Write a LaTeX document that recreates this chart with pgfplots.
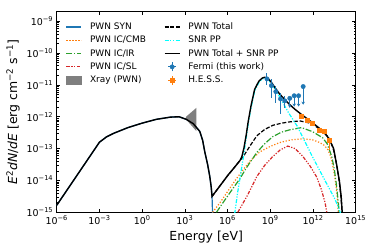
\documentclass[border=0pt]{standalone}
\usepackage{fontspec}
\setmainfont{DejaVu Sans}
\usepackage{pgfplots}
\pgfplotsset{compat=1.18}
\usetikzlibrary{arrows.meta}
\definecolor{c0}{HTML}{1F77B4}
\definecolor{c1}{HTML}{FF7F0E}
\definecolor{c2}{HTML}{2CA02C}
\definecolor{c3}{HTML}{D62728}
\definecolor{cy}{HTML}{00FFFF}
\definecolor{xg}{HTML}{7F7F7F}
\newcommand{\sups}[1]{\textsuperscript{#1}}
\pgfplotsset{
  circleg/.style={legend image code/.code={\draw[##1, line width=1bp] (7.5bp,-4.5bp) -- (7.5bp,4.5bp) (3.5bp,0bp) -- (11.5bp,0bp); \fill[##1] (7.5bp,0bp) circle (2.2bp);}},
  squareleg/.style={legend image code/.code={\draw[##1, line width=1bp] (7.5bp,-4.5bp) -- (7.5bp,4.5bp) (3.5bp,0bp) -- (11.5bp,0bp); \fill[##1] (5.4bp,-2.1bp) rectangle (9.6bp,2.1bp);}},
  rectleg/.style={legend image code/.code={\fill[##1] (0bp,-4bp) rectangle (15bp,4bp);}},
  lineleg/.style={legend image code/.code={\draw[##1] (0bp,0bp) -- (15bp,0bp);}},
}
\begin{document}
\begin{tikzpicture}
\begin{axis}[
  scale only axis, width=299bp, height=200.6bp,
  xmin=-6, xmax=15, ymin=-15, ymax=-8.70,
  xtick={-6,-3,0,3,6,9,12,15},
  xticklabels={10\sups{−6},10\sups{−3},10\sups{0},10\sups{3},10\sups{6},10\sups{9},10\sups{12},10\sups{15}},
  ytick={-15,-14,-13,-12,-11,-10,-9},
  yticklabels={10\sups{−15},10\sups{−14},10\sups{−13},10\sups{−12},10\sups{−11},10\sups{−10},10\sups{−9}},
  minor ytick={-14.699,-14.523,-14.398,-14.301,-14.222,-14.155,-14.097,-14.046,
               -13.699,-13.523,-13.398,-13.301,-13.222,-13.155,-13.097,-13.046,
               -12.699,-12.523,-12.398,-12.301,-12.222,-12.155,-12.097,-12.046,
               -11.699,-11.523,-11.398,-11.301,-11.222,-11.155,-11.097,-11.046,
               -10.699,-10.523,-10.398,-10.301,-10.222,-10.155,-10.097,-10.046,
               -9.699,-9.523,-9.398,-9.301,-9.222,-9.155,-9.097,-9.046},
  tick align=inside,
  major tick length=3.5bp, minor tick length=2bp,
  every tick/.style={black, line width=0.6bp},
  axis line style={line width=0.8bp},
  tick label style={font=\fontsize{9.5}{11}\selectfont},
  label style={font=\fontsize{12.5}{15}\selectfont},
  xlabel={Energy [eV]},
  ylabel={\textit{E}\sups{2}\textit{dN}/\textit{dE} [erg cm\sups{−2} s\sups{−1}]},
  legend columns=2,
  legend cell align=left,
  legend style={draw=none, fill=none, at={(axis description cs:0.02,0.968)}, anchor=north west,
    font=\fontsize{9}{10.8}\selectfont,
    nodes={text height=7.3bp, text depth=2bp, inner sep=2bp},
    /tikz/every odd column/.append style={column sep=6bp},
    /tikz/every even column/.append style={column sep=16bp}},
]
% PWN SYN
\addplot[c0, line width=1.2bp, forget plot] coordinates {
(-6,-14.78) (-5,-14.12) (-4,-13.46) (-3,-12.8) (-2.5,-12.63) (-2,-12.52) (-1,-12.34) (0,-12.2) (1,-12.08) (2,-12.01) (2.6,-12.0) (3.1,-12.08) (3.6,-12.22) (4.05,-12.46) (4.25,-12.74) (4.4,-13.1) (4.6,-13.5) (4.75,-13.87) (4.85,-14.2) (4.91,-14.5) (4.95,-15.1)};
% IC/CMB
\addplot[c1, line width=1.2bp, dash pattern=on 1.2bp off 1.8bp, forget plot] coordinates {
(4.95,-15.0) (5.5,-14.68) (6.0,-14.35) (6.5,-14.02) (7.1,-13.66) (7.6,-13.38) (8.27,-13.1) (9.0,-12.93) (9.67,-12.81) (10.4,-12.73) (11.28,-12.69) (11.95,-12.72) (12.48,-12.81) (12.8,-12.9) (13.04,-13.03) (13.25,-13.25) (13.4,-13.56) (13.55,-13.95) (13.68,-14.4) (13.78,-15.0)};
% IC/IR
\addplot[c2, line width=1.2bp, dash pattern=on 6bp off 1.8bp on 1.2bp off 1.8bp, forget plot] coordinates {
(5.22,-15.0) (5.8,-14.62) (6.3,-14.3) (6.86,-13.95) (7.33,-13.6) (8.05,-13.125) (8.6,-12.85) (9.17,-12.625) (9.8,-12.48) (10.37,-12.41) (11.2,-12.34) (11.98,-12.47) (12.68,-12.66) (13.0,-12.85) (13.32,-13.25) (13.5,-13.65) (13.65,-14.15) (13.78,-14.7) (13.84,-15.0)};
% IC/SL
\addplot[c3, line width=1.2bp, dash pattern=on 3.5bp off 1.5bp on 1.2bp off 1.5bp on 1.2bp off 1.5bp, forget plot] coordinates {
(6.72,-15.0) (7.0,-14.78) (7.42,-14.45) (8.05,-13.88) (8.6,-13.53) (9.17,-13.25) (9.7,-13.04) (10.23,-12.92) (10.75,-13.0) (11.28,-13.24) (11.8,-13.55) (12.27,-13.9) (12.6,-14.3) (12.85,-14.7) (12.97,-15.0)};
% Xray band
\addplot[fill=xg, draw=none, forget plot] coordinates {
(3.08,-12.0) (3.81,-11.72) (3.81,-12.45) (3.08,-12.08)} -- cycle;
% PWN Total
\addplot[black, line width=1.2bp, dash pattern=on 4bp off 1.8bp, forget plot] coordinates {
(4.91,-14.5) (5.5,-14.15) (6.0,-13.85) (6.5,-13.58) (6.86,-13.38) (7.1,-13.25) (7.6,-12.9) (8.05,-12.6) (8.6,-12.4) (9.17,-12.27) (9.8,-12.2) (10.37,-12.16) (11.08,-12.13) (11.8,-12.2) (12.48,-12.38) (13.0,-12.6) (13.19,-12.72) (13.45,-13.05) (13.66,-13.5) (13.85,-14.05) (13.97,-14.55) (14.05,-15.05)};
% SNR PP
\addplot[cy, line width=1.2bp, dash pattern=on 4bp off 1.5bp on 1.2bp off 1.5bp on 1.2bp off 1.5bp, forget plot] coordinates {
(6.5,-15.05) (6.7,-14.4) (6.9,-13.85) (7.1,-13.3) (7.3,-12.7) (7.45,-12.22) (7.65,-11.72) (7.9,-11.2) (8.2,-10.92) (8.45,-10.81) (8.62,-10.79) (8.85,-10.84) (9.1,-10.97) (9.35,-11.14) (9.67,-11.38) (10.25,-11.85) (10.9,-12.3) (11.9,-13.2) (12.9,-14.05) (13.5,-14.55) (13.8,-14.85) (13.95,-15.05)};
% PWN Total + SNR PP
\addplot[black, line width=1.4bp, forget plot] coordinates {
(-6,-14.78) (-5,-14.12) (-4,-13.46) (-3,-12.8) (-2.5,-12.63) (-2,-12.52) (-1,-12.34) (0,-12.2) (1,-12.08) (2,-12.01) (2.6,-12.0) (3.1,-12.08) (3.6,-12.22) (4.05,-12.46) (4.25,-12.74) (4.4,-13.1) (4.6,-13.5) (4.75,-13.87) (4.85,-14.2) (4.91,-14.5)
(5.5,-14.15) (6.0,-13.85) (6.5,-13.58) (6.86,-13.38) (7.0,-13.26) (7.15,-12.98) (7.3,-12.6) (7.45,-12.15) (7.65,-11.65) (7.9,-11.14) (8.2,-10.88) (8.45,-10.78) (8.62,-10.76) (8.85,-10.8) (9.1,-10.93) (9.32,-11.08) (9.65,-11.28) (10.0,-11.45) (10.4,-11.63) (10.72,-11.76) (11.2,-11.93) (11.62,-12.07) (12.0,-12.2) (12.42,-12.35) (12.8,-12.5) (13.15,-12.7) (13.45,-13.0) (13.66,-13.5) (13.85,-14.0) (13.98,-14.5) (14.06,-15.05)};
% Fermi points
\addplot[c0, only marks, mark=*, mark size=2.2bp, forget plot,
  error bars/.cd, y dir=both, y explicit, error mark=none, error bar style={line width=1bp, c0}]
  table[x=x, y=y, y error plus=ep, y error minus=em] {
x y ep em
8.77 -10.81 0.19 0.19
9.08 -11.02 0.20 0.38
9.39 -11.21 0.18 0.35
9.72 -11.44 0.20 0.48
10.02 -11.50 0.14 0.24
};
% Fermi upper limits
\addplot[c0, only marks, mark=*, mark size=2.2bp, forget plot,
  error bars/.cd, y dir=minus, y explicit, error mark=none,
  error bar style={line width=1bp, c0, -{Stealth[length=3bp,width=3.5bp]}}]
  table[x=x, y=y, y error minus=em] {
x y em
10.37 -11.42 0.30
10.68 -11.34 0.34
10.99 -11.34 0.34
11.31 -11.05 0.57
};
% HESS
\addplot[c1, only marks, mark=square*, mark size=2.1bp, forget plot,
  error bars/.cd, y dir=both, y explicit, error mark=none, error bar style={line width=1bp, c1}]
  table[x=x, y=y, y error plus=ep, y error minus=em] {
x y ep em
11.20 -11.97 0.04 0.04
11.62 -12.12 0.04 0.04
11.95 -12.20 0.04 0.05
12.42 -12.43 0.05 0.06
12.79 -12.46 0.05 0.07
13.15 -12.74 0.08 0.29
};
% legend
\addlegendimage{lineleg, c0, line width=1.2bp}\addlegendentry{PWN SYN}
\addlegendimage{lineleg, black, line width=1.2bp, dash pattern=on 4bp off 1.8bp}\addlegendentry{PWN Total}
\addlegendimage{lineleg, c1, line width=1.2bp, dash pattern=on 1.2bp off 1.8bp}\addlegendentry{PWN IC/CMB}
\addlegendimage{lineleg, cy, line width=1.2bp, dash pattern=on 4bp off 1.5bp on 1.2bp off 1.5bp on 1.2bp off 1.5bp}\addlegendentry{SNR PP}
\addlegendimage{lineleg, c2, line width=1.2bp, dash pattern=on 6bp off 1.8bp on 1.2bp off 1.8bp}\addlegendentry{PWN IC/IR}
\addlegendimage{lineleg, black, line width=1.4bp}\addlegendentry{PWN Total + SNR PP}
\addlegendimage{lineleg, c3, line width=1.2bp, dash pattern=on 3.5bp off 1.5bp on 1.2bp off 1.5bp on 1.2bp off 1.5bp}\addlegendentry{PWN IC/SL}
\addlegendimage{circleg, c0}\addlegendentry{Fermi (this work)}
\addlegendimage{rectleg, xg}\addlegendentry{Xray (PWN)}
\addlegendimage{squareleg, c1}\addlegendentry{H.E.S.S.}
\end{axis}
\pgfresetboundingbox
\path[use as bounding box] (-56.7bp,-36.7bp) rectangle (317.3bp,212.3bp);
\end{tikzpicture}
\end{document}
